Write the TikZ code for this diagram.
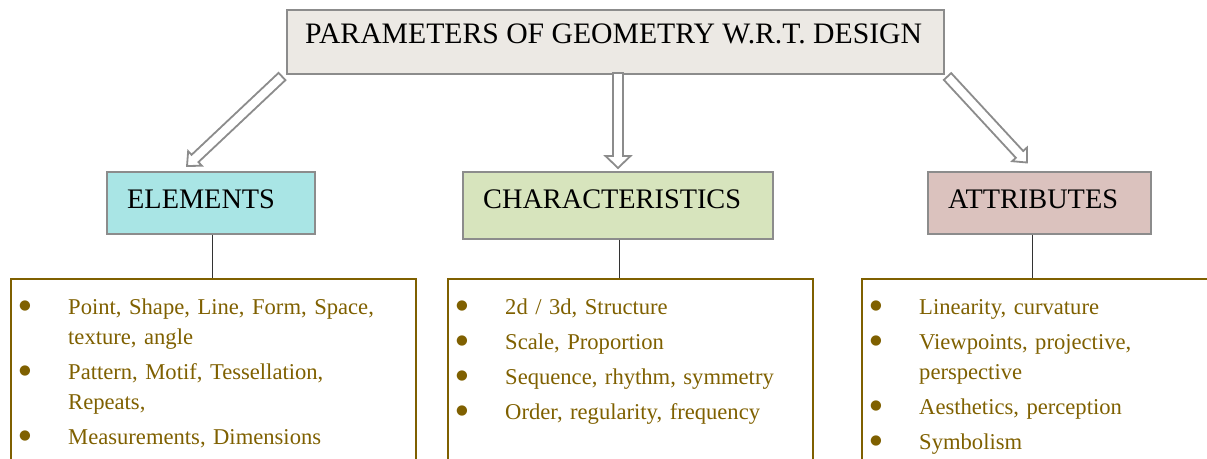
\documentclass[tikz,border=0pt]{standalone}
\usepackage{fontspec}
\setmainfont{Liberation Serif}
\newfontfamily\dotfont{DejaVu Sans}
\usetikzlibrary{calc}

\definecolor{edgegray}{HTML}{8C8C8C}
\definecolor{titlefill}{HTML}{ECE9E4}
\definecolor{elemfill}{HTML}{A9E5E5}
\definecolor{charfill}{HTML}{D7E4BD}
\definecolor{attrfill}{HTML}{DBC2BE}
\definecolor{olivetext}{HTML}{7F6000}
\definecolor{linkgray}{HTML}{333333}

% hollow block arrow: #1 tail, #2 tip, #3 half shaft width, #4 head length, #5 half head width
\newcommand\hollowarrow[5]{%
  \coordinate (hb) at ($(#2)!#4!(#1)$);
  \draw[blockarrow]
    ($(#1)!#3!90:(#2)$) -- ($(hb)!#3!90:(#2)$) -- ($(hb)!#5!90:(#2)$) -- (#2)
    -- ($(hb)!#5!-90:(#2)$) -- ($(hb)!#3!-90:(#2)$) -- ($(#1)!#3!-90:(#2)$) -- cycle;}

% a round bullet
\newcommand\bigdot{\raisebox{5pt}{\dotfont\fontsize{13.5}{14}\selectfont ●}}

% one bulleted entry with hanging indent
\newcommand\itm[1]{\par\noindent\hangindent=47pt\hangafter=1
  \makebox[47pt][l]{\hspace*{-2pt}\bigdot}#1\par\vskip5pt}

\begin{document}
\begin{tikzpicture}[x=1pt,y=-1pt,
  blockarrow/.style={draw=edgegray, line width=1.8pt, fill=white, line join=miter},
  headbox/.style={draw=edgegray, line width=1.5pt, anchor=north west, inner sep=0pt},
  headtext/.style={anchor=base west, inner sep=0pt, font=\fontsize{28.3}{32}\selectfont},
  listframe/.style={draw=olivetext, line width=2pt, anchor=north west, inner sep=0pt},
  listtext/.style={anchor=north west, inner sep=0pt, align=left, text=olivetext,
    font=\fontsize{22.6}{30}\selectfont},
  link/.style={draw=linkgray, line width=1pt}]
\useasboundingbox (0,0) rectangle (1207,458);
\clip (0,0) rectangle (1207,458);

% title
\node[headbox, fill=titlefill, minimum width=657pt, minimum height=64pt] (title) at (286,9) {};
\node[headtext, font=\fontsize{29.7}{32}\selectfont] (titletext) at (305,43)
  {PARAMETERS OF GEOMETRY W.R.T. DESIGN};

% headings
\node[headbox, fill=elemfill, minimum width=208pt, minimum height=62pt] (hE) at (106,171) {};
\node[headbox, fill=charfill, minimum width=310pt, minimum height=67pt] (hC) at (462,171) {};
\node[headbox, fill=attrfill, minimum width=223pt, minimum height=62pt] (hA) at (927,171) {};
\node[headtext] (hEtext) at (127,208) {ELEMENTS};
\node[headtext] (hCtext) at (483,208) {CHARACTERISTICS};
\node[headtext] (hAtext) at (948,208) {ATTRIBUTES};

% arrows from the title to the headings
\coordinate (aEs) at (282,76.5);  \coordinate (aEe) at (187,166);
\coordinate (aCs) at (618,73);    \coordinate (aCe) at (618,168);
\coordinate (aAs) at (947.5,76.5);\coordinate (aAe) at (1027,162.5);
\hollowarrow{aEs}{aEe}{5pt}{11pt}{10pt}
\hollowarrow{aCs}{aCe}{5pt}{12pt}{12.5pt}
\hollowarrow{aAs}{aAe}{5pt}{11pt}{10pt}

% list frames
\node[listframe, minimum width=405pt, minimum height=200pt] (fE) at (10,278) {};
\node[listframe, minimum width=365pt, minimum height=200pt] (fC) at (447,278) {};
\node[listframe, minimum width=380pt, minimum height=200pt] (fA) at (861,278) {};

% connectors
\draw[link] ([xshift=2pt]hE.south) -- ([xshift=2pt]hE.south |- fE.north);
\draw[link] ([xshift=2pt]hC.south) -- ([xshift=2pt]hC.south |- fC.north);
\draw[link] ([xshift=-7pt]hA.south) -- ([xshift=-7pt]hA.south |- fA.north);

% list contents
\node[listtext, text width=390pt] (tE) at ([xshift=11pt]fE.north west) {%
  \itm{\rule{0pt}{35pt}Point, Shape, Line, Form, Space,\newline texture, angle}
  \itm{Pattern, Motif, Tessellation,\newline Repeats,}
  \itm{Measurements, Dimensions}};
\node[listtext, text width=350pt] (tC) at ([xshift=11pt]fC.north west) {%
  \itm{\rule{0pt}{35pt}2d / 3d, Structure}
  \itm{Scale, Proportion}
  \itm{Sequence, rhythm, symmetry}
  \itm{Order, regularity, frequency}};
\node[listtext, text width=330pt] (tA) at ([xshift=11pt]fA.north west) {%
  \itm{\rule{0pt}{35pt}Linearity, curvature}
  \itm{Viewpoints, projective,\newline perspective}
  \itm{Aesthetics, perception}
  \itm{Symbolism}};
\end{tikzpicture}
\end{document}
